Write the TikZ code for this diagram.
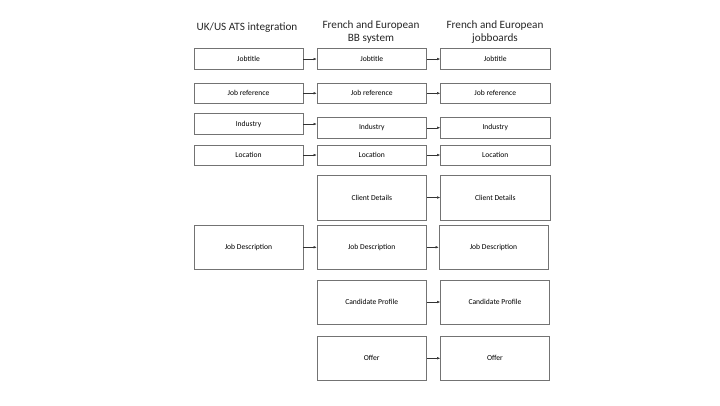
\documentclass[tikz,border=0pt]{standalone}
\usepackage{fontspec}
\setmainfont{Carlito}
\usetikzlibrary{arrows.meta}
\begin{document}
\begin{tikzpicture}[x=1pt,y=-1pt,
  box/.style={draw=black!55,line width=0.7pt,fill=white,inner sep=0pt,font=\fontsize{7.6}{9}\selectfont},
  hdr/.style={font=\fontsize{11.2}{12.5}\selectfont,align=center,text=black!85},
  arr/.style={draw=black!80,line width=0.5pt,-{Latex[length=3pt,width=2.6pt]}}]
\useasboundingbox (0,0) rectangle (720,405);
\newcommand{\bx}[6]{\node[box,minimum width=#4-#2,minimum height=#5-#3] (#1) at ({(#2+#4)/2},{(#3+#5)/2}) {#6};}
% headers
\node[hdr] (h1) at (247,28) {UK/US ATS integration};
\node[hdr] (h2) at (371,32) {French and European\\BB system};
\node[hdr] (h3) at (495,32) {French and European\\jobboards};
% column 1
\bx{a1}{194}{48.5}{303}{69.5}{Jobtitle}
\bx{a2}{194}{83}{303}{103.5}{Job reference}
\bx{a3}{194}{113.5}{303}{134.5}{Industry}
\bx{a4}{194}{145}{303}{165}{Location}
\bx{a6}{194}{225}{303}{269.5}{Job Description}
% column 2
\bx{b1}{317}{48.5}{426.5}{69.5}{Jobtitle}
\bx{b2}{317}{83}{426.5}{103.5}{Job reference}
\bx{b3}{317}{117.5}{426.5}{138}{Industry}
\bx{b4}{317}{145}{426.5}{165}{Location}
\bx{b5}{317}{175}{426.5}{220}{Client Details}
\bx{b6}{317}{225}{426.5}{269.5}{Job Description}
\bx{b7}{317}{280}{426.5}{324}{Candidate Profile}
\bx{b8}{317}{336}{426.5}{380.5}{Offer}
% column 3
\bx{c1}{440.5}{48.5}{550}{69.5}{Jobtitle}
\bx{c2}{440.5}{83}{550}{103.5}{Job reference}
\bx{c3}{440.5}{117.5}{550}{138}{Industry}
\bx{c4}{440.5}{145}{550}{165}{Location}
\bx{c5}{440.5}{175}{550}{220}{Client Details}
\bx{c6}{439}{225}{548}{269.5}{Job Description}
\bx{c7}{440.5}{280}{549.5}{324}{Candidate Profile}
\bx{c8}{440.5}{336}{549.5}{380.5}{Offer}
% arrows
\foreach \s/\t in {a1/b1,a2/b2,a3/b3,a4/b4,a6/b6,b1/c1,b2/c2,b3/c3,b4/c4,b5/c5,b6/c6,b7/c7,b8/c8}
  \draw[arr] (\s.east) -- (\s.east -| \t.west);
\end{tikzpicture}
\end{document}
